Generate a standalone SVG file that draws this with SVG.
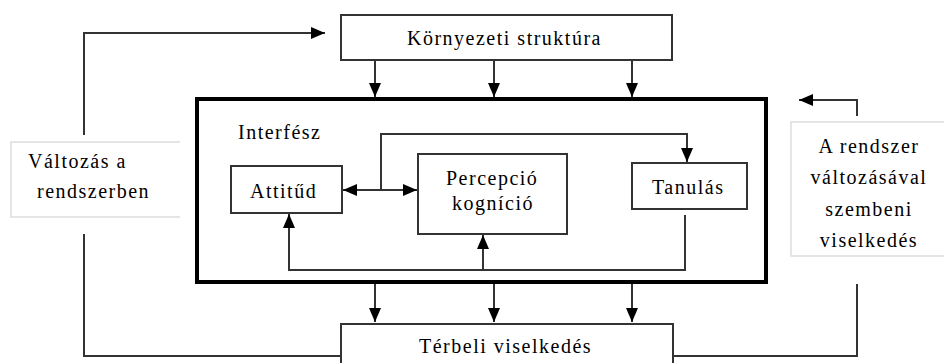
<svg xmlns="http://www.w3.org/2000/svg" width="944" height="363" viewBox="0 0 944 363">
<style>
text{font-family:"Liberation Serif","DejaVu Serif","Times New Roman",serif;font-size:20px;letter-spacing:1.5px;fill:#000}
.box{fill:#fff;stroke:#333;stroke-width:2}
.lbox{fill:none;stroke:#ddd;stroke-width:1.5}
.main{fill:none;stroke:#000;stroke-width:4}
.c{fill:none;stroke:#333;stroke-width:2}
.a{marker-end:url(#ah)}
</style>
<defs>
<marker id="ah" markerUnits="userSpaceOnUse" markerWidth="16" markerHeight="14" viewBox="0 0 16 14" refX="15" refY="7" orient="auto">
<path d="M1,1 L15,7 L1,13 Z" fill="#000"/>
</marker>
<marker id="as" markerUnits="userSpaceOnUse" markerWidth="16" markerHeight="14" viewBox="0 0 16 14" refX="1" refY="7" orient="auto">
<path d="M15,1 L1,7 L15,13 Z" fill="#000"/>
</marker>
</defs>
<rect width="944" height="363" fill="#fff"/>

<g id="interface">
<rect class="main" x="197" y="99" width="569" height="183"/>
<text x="238" y="139">Interfész</text>
</g>

<g id="kornyezeti">
<rect class="box" x="341" y="15" width="331" height="45"/>
<text x="407" y="45">Környezeti struktúra</text>
</g>

<g id="terbeli">
<rect class="box" x="341" y="324" width="332" height="50"/>
<text x="419" y="353">Térbeli viselkedés</text>
</g>

<g id="valtozas">
<path class="lbox" d="M180,142 H11 V217 H180"/>
<text x="28" y="168">Változás a</text>
<text x="37" y="198">rendszerben</text>
</g>

<g id="rendszer">
<path class="lbox" d="M944,122 H791 V256 H944"/>
<text x="869" y="153" text-anchor="middle">A rendszer</text>
<text x="869" y="184" text-anchor="middle">változásával</text>
<text x="869" y="216" text-anchor="middle">szembeni</text>
<text x="869" y="247" text-anchor="middle">viselkedés</text>
</g>

<g id="attitud">
<rect class="box" x="231" y="166" width="111" height="47"/>
<text x="250" y="198">Attitűd</text>
</g>

<g id="percepcio">
<rect class="box" x="418" y="154" width="149" height="80"/>
<text x="446" y="185">Percepció</text>
<text x="452" y="210">kogníció</text>
</g>

<g id="tanulas">
<rect class="box" x="632" y="163" width="115" height="46"/>
<text x="652" y="194">Tanulás</text>
</g>

<g id="connectors">
<path class="c a" d="M375,60 V97"/>
<path class="c a" d="M494,60 V97"/>
<path class="c a" d="M632,60 V97"/>
<path class="c a" d="M375,284 V322"/>
<path class="c a" d="M494,284 V322"/>
<path class="c a" d="M632,284 V322"/>
<path class="c a" d="M84,135 V33 H325"/>
<path class="c" d="M84,234 V356 H341"/>
<path class="c" d="M673,356 H857 V284"/>
<path class="c a" d="M857,116 V100 H799"/>
<path class="c" d="M343,190 H417" marker-start="url(#as)" marker-end="url(#ah)"/>
<path class="c a" d="M381,190 V134 H687 V162"/>
<path class="c a" d="M685,215 V270 H289 V214"/>
<path class="c a" d="M483,270 V235"/>
</g>
</svg>
